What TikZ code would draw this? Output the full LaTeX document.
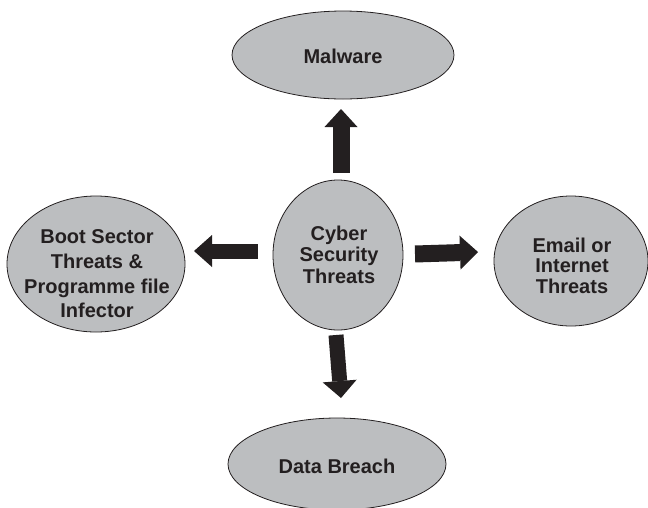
\documentclass[tikz,border=0pt]{standalone}
\usepackage{fontspec}
\setmainfont{Liberation Sans}
\usetikzlibrary{shapes.geometric,arrows.meta}
\definecolor{blobfill}{HTML}{BCBEC0}
\definecolor{ink}{HTML}{231F20}
\tikzset{
  blob/.style={ellipse, draw=ink, line width=0.8pt, fill=blobfill, inner sep=0pt},
  lbl/.style={font=\fontsize{20}{24}\selectfont\bfseries, text=ink, align=center, inner sep=0pt},
  fat/.style={draw=ink, line width=#1},
}
\begin{document}
\begin{tikzpicture}[x=1pt,y=-1pt]
\useasboundingbox (0,0) rectangle (648,507);
% ellipses
\node[blob, minimum width=222pt, minimum height=88pt] (mal) at (343,55) {};
\node[blob, minimum width=130pt, minimum height=150pt] (ctr) at (338,255) {};
\node[blob, minimum width=178pt, minimum height=136pt] (boot) at (96,264) {};
\node[blob, minimum width=154pt, minimum height=130pt] (email) at (571,261) {};
\node[blob, minimum width=218pt, minimum height=92pt] (data) at (337,464) {};
% labels
\node[lbl, anchor=base] (malt) at (343,63) {Malware};
\node[lbl, anchor=base] (datat) at (337,473) {Data Breach};
\node[lbl, font=\fontsize{20}{21.5}\selectfont\bfseries] (ctrt) at (339,254.5) {Cyber\\Security\\Threats};
\node[lbl, font=\fontsize{20}{24.7}\selectfont\bfseries] (boott) at (97,274) {Boot Sector\\Threats \&\\Programme file\\Infector};
\node[lbl, font=\fontsize{20}{20.5}\selectfont\bfseries] (emailt) at (572,265.5) {Email or\\Internet\\Threats};
% arrow end points
\coordinate (u0) at (341,173); \coordinate (u1) at (341,109);
\coordinate (l0) at (258,251); \coordinate (l1) at (194,251);
\coordinate (r0) at (415,254); \coordinate (r1) at (478,252);
\coordinate (d0) at (336,335); \coordinate (d1) at (341,398);
\draw[fat=17pt, -{Triangle[width=33pt,length=18pt,line width=0pt]}, ink] (u0) -- (u1);
\draw[fat=15pt, -{Triangle[width=32pt,length=18pt,line width=0pt]}, ink] (l0) -- (l1);
\draw[fat=17pt, -{Triangle[width=34pt,length=18pt,line width=0pt]}, ink] (r0) -- (r1);
\draw[fat=15pt, -{Triangle[width=34pt,length=17pt,line width=0pt]}, ink] (d0) -- (d1);
\end{tikzpicture}
\end{document}
